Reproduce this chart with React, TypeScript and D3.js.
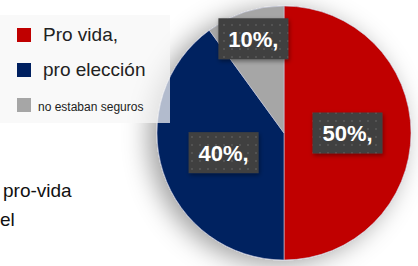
import { useEffect, useRef } from "react";
import * as d3 from "d3";

const categories = ["Pro vida,", "pro elección", "no estaban seguros"];
const values = [50, 40, 10];
const valueLabels = ["50%,", "40%,", "10%,"];
const colors = ["#c00000", "#002060", "#a6a6a6"];
const sideLines = ["pro-vida", "el"];

const W = 418;
const H = 266;

export default function App() {
  const ref = useRef<SVGSVGElement>(null);

  useEffect(() => {
    const svg = d3.select(ref.current);
    svg.selectAll("*").remove();
    document.body.style.margin = "0";

    const defs = svg.append("defs");
    const sh = defs.append("filter").attr("id", "pieShadow")
      .attr("x", "-50%").attr("y", "-50%").attr("width", "200%").attr("height", "200%");
    sh.append("feDropShadow").attr("dx", -8).attr("dy", 4)
      .attr("stdDeviation", 13).attr("flood-color", "#000").attr("flood-opacity", 0.38);
    const bsh = defs.append("filter").attr("id", "boxShadow")
      .attr("x", "-30%").attr("y", "-30%").attr("width", "160%").attr("height", "160%");
    bsh.append("feDropShadow").attr("dx", 1).attr("dy", 2)
      .attr("stdDeviation", 2).attr("flood-color", "#000").attr("flood-opacity", 0.4);
    const pat = defs.append("pattern").attr("id", "dots")
      .attr("width", 8).attr("height", 8).attr("patternUnits", "userSpaceOnUse");
    pat.append("rect").attr("width", 8).attr("height", 8).attr("fill", "#404040");
    pat.append("circle").attr("cx", 4).attr("cy", 4).attr("r", 1).attr("fill", "#595959");

    svg.append("rect").attr("width", W).attr("height", H).attr("fill", "#fff");

    // text behind the chart on the left
    svg.append("g")
      .selectAll("text")
      .data(sideLines)
      .join("text")
      .attr("x", (_, i) => (i === 0 ? 3 : 0))
      .attr("y", (_, i) => 197 + i * 29)
      .attr("font-family", "Liberation Sans, Arial, sans-serif")
      .attr("font-size", 19)
      .attr("fill", "#111")
      .text((d) => d);

    const cx = 284, cy = 133, r = 127;
    const pie = d3.pie<number>().sort(null)(values);
    const arc = d3.arc<d3.PieArcDatum<number>>().innerRadius(0).outerRadius(r);

    const g = svg.append("g").attr("transform", `translate(${cx},${cy})`);
    g.append("g").attr("filter", "url(#pieShadow)")
      .selectAll("path")
      .data(pie)
      .join("path")
      .attr("d", arc)
      .attr("fill", (_, i) => colors[i])
      .attr("stroke", "#c9cde0")
      .attr("stroke-width", 0.6);

    // legend panel
    const lg = svg.append("g");
    lg.append("rect").attr("x", 0).attr("y", 15).attr("width", 170).attr("height", 108)
      .attr("fill", "#f7f7f7").attr("fill-opacity", 0.72);
    const sizes = [19, 19, 12];
    lg.selectAll("g.item")
      .data(categories)
      .join("g")
      .attr("class", "item")
      .each(function (d, i) {
        const it = d3.select(this);
        const y = 28 + i * 35;
        it.append("rect").attr("x", 17).attr("y", y).attr("width", 14).attr("height", 14)
          .attr("fill", colors[i]);
        it.append("text")
          .attr("x", i === 2 ? 38 : 43)
          .attr("y", y + 13)
          .attr("font-family", "Liberation Sans, Arial, sans-serif")
          .attr("font-size", sizes[i])
          .attr("fill", "#222")
          .text(d);
      });

    // value labels
    const labelRadius = [0.5, 0.5, 0.78];
    const lab = g.append("g");
    pie.forEach((p, i) => {
      const a = (p.startAngle + p.endAngle) / 2;
      const rr = r * labelRadius[i];
      const x = Math.sin(a) * rr;
      const y = -Math.cos(a) * rr;
      const bw = 70, bh = 41;
      lab.append("rect").attr("x", x - bw / 2).attr("y", y - bh / 2)
        .attr("width", bw).attr("height", bh)
        .attr("fill", "url(#dots)").attr("filter", "url(#boxShadow)");
      lab.append("text").attr("x", x).attr("y", y + 8)
        .attr("text-anchor", "middle")
        .attr("font-family", "Liberation Sans, Arial, sans-serif")
        .attr("font-weight", "bold")
        .attr("font-size", 22)
        .attr("fill", "#fff")
        .text(valueLabels[i]);
    });
  }, []);

  return <svg ref={ref} width={W} height={H} style={{ display: "block" }} />;
}
